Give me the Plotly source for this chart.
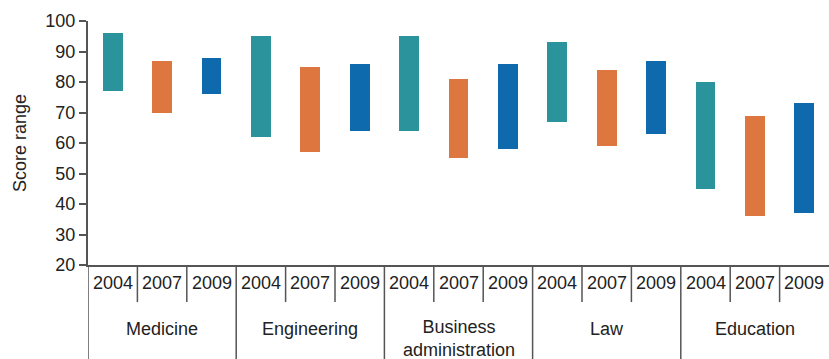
import plotly.graph_objects as go

fields = ["Medicine", "Engineering", "Business<br>administration", "Law", "Education"]
years = ["2004", "2007", "2009"]
low = {
    "2004": [77, 62, 64, 67, 45],
    "2007": [70, 57, 55, 59, 36],
    "2009": [76, 64, 58, 63, 37],
}
high = {
    "2004": [96, 95, 95, 93, 80],
    "2007": [87, 85, 81, 84, 69],
    "2009": [88, 86, 86, 87, 73],
}
colors = {"2004": "#2A939B", "2007": "#DE7640", "2009": "#0E6AAD"}

FONT = "Liberation Sans, Arial, sans-serif"
AX = "#555555"
TXT = "#222222"
FS = 18

fig = go.Figure()
n_years = len(years)
for j, yr in enumerate(years):
    xs = [g * n_years + j for g in range(len(fields))]
    fig.add_trace(go.Bar(
        x=xs,
        y=[h - l for h, l in zip(high[yr], low[yr])],
        base=low[yr],
        width=0.4,
        marker=dict(color=colors[yr], line=dict(width=0)),
        name=yr,
        showlegend=False,
        hoverinfo="skip",
    ))

shapes = []
annotations = []
total = len(fields) * n_years
for g, field in enumerate(fields):
    for j, yr in enumerate(years):
        idx = g * n_years + j
        annotations.append(dict(x=idx, y=-0.074, xref="x", yref="paper",
                                text=yr, showarrow=False,
                                font=dict(family=FONT, size=FS, color=TXT),
                                xanchor="center", yanchor="middle"))
        if j > 0:
            shapes.append(dict(type="line", xref="x", yref="paper",
                               x0=idx - 0.5, x1=idx - 0.5, y0=0, y1=-0.152,
                               line=dict(color=AX, width=1.5)))
    shapes.append(dict(type="line", xref="x", yref="paper",
                       x0=g * n_years - 0.5, x1=g * n_years - 0.5, y0=0, y1=-0.4,
                       line=dict(color=AX, width=1.5)))
    yy = -0.262 if "<br>" not in field else -0.302
    annotations.append(dict(x=g * n_years + 1, y=yy, xref="x", yref="paper",
                            text=field, showarrow=False,
                            font=dict(family=FONT, size=FS, color=TXT),
                            xanchor="center", yanchor="middle"))

fig.update_layout(
    width=829, height=359,
    margin=dict(l=88, r=0, t=21, b=94),
    paper_bgcolor="white", plot_bgcolor="white",
    font=dict(family=FONT, size=FS, color=TXT),
    bargap=0,
    shapes=shapes,
    annotations=annotations,
    xaxis=dict(range=[-0.5, total - 0.5], showticklabels=False, ticks="",
               showgrid=False, zeroline=False, showline=True,
               linecolor=AX, linewidth=2, fixedrange=True),
    yaxis=dict(range=[20, 100], dtick=10, tick0=20, ticks="outside", ticklen=7,
               tickwidth=1.5, tickcolor=AX, showgrid=False, zeroline=False,
               showline=True, linecolor=AX, linewidth=2,
               title=dict(text="Score range", font=dict(family=FONT, size=FS, color=TXT), standoff=14),
               tickfont=dict(family=FONT, size=FS, color=TXT)),
)

fig.write_html("out.html", config={"displayModeBar": False},
               post_script="document.body.style.margin='0';document.body.style.overflow='hidden';")
